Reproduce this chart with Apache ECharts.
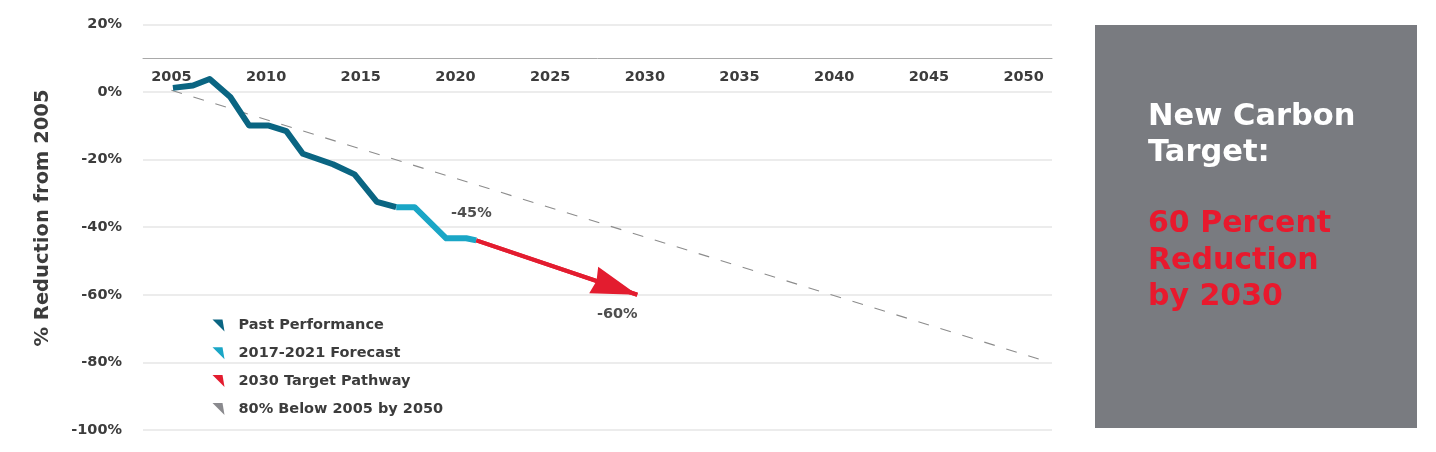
<!DOCTYPE html>
<html><head><meta charset="utf-8">
<script src="https://cdn.jsdelivr.net/npm/echarts@6/dist/echarts.min.js"></script>
<style>html,body{margin:0;padding:0;background:#fff}#c{width:1436px;height:452px}</style>
</head><body><div id="c"></div>
<script>
// ---- data ----
const xTicks = [2005, 2010, 2015, 2020, 2025, 2030, 2035, 2040, 2045, 2050];
const pastX = [2005.08, 2006.14, 2007.02, 2008.11, 2009.1, 2010.1, 2011.07, 2011.94, 2013.53, 2014.67, 2015.85, 2016.87];
const pastY = [1.2, 1.9, 3.8, -1.5, -9.9, -9.9, -11.6, -18.3, -21.4, -24.4, -32.5, -34.1];
const forecastX = [2016.87, 2017.84, 2019.51, 2020.57, 2021.1];
const forecastY = [-34.1, -34.1, -43.3, -43.3, -43.9];
const targetX = [2021.1, 2029.6];
const targetY = [-43.9, -60];
const trendX = [2005, 2050.8];
const trendY = [0.5, -79];
const annoX = [2021.1, 2029.6];
const annoY = [-43.9, -60];
const annoText = ['-45%', '-60%'];
const seriesNames = ['Past Performance', '2017-2021 Forecast', '2030 Target Pathway', '80% Below 2005 by 2050'];

// ---- styles ----
const C_DARK = '#0a6582', C_LIGHT = '#1aa6c6', C_RED = '#e31c2f', C_GRAY = '#8a8a8e';
const FONT = '"DejaVu Sans", "Liberation Sans", sans-serif';
const TXT = '#3c3c3c';
const pairs = (xs, ys) => xs.map((x, i) => [x, ys[i]]);
const ICON = 'path://M0,0 L10,0 L12,12 Z';
const ARROW = 'path://M14,0 L28,46 L14,43 L0,46 Z';

const chart = echarts.init(document.getElementById('c'), null, {renderer: 'canvas'});
chart.setOption({
  animation: false,
  backgroundColor: '#ffffff',
  grid: {left: 143, right: 384, top: 24.3, bottom: 22, containLabel: false},
  xAxis: {
    type: 'value', min: 2003.5, max: 2051.5, position: 'top', offset: -33.8,
    axisLine: {show: true, onZero: false, lineStyle: {color: '#a9a9a9', width: 1}},
    axisTick: {show: false},
    splitLine: {show: false},
    axisLabel: {
      customValues: xTicks, inside: true, margin: 12,
      formatter: v => String(v),
      color: TXT, fontFamily: FONT, fontWeight: 'bold', fontSize: 14.5
    }
  },
  yAxis: {
    type: 'value', min: -100, max: 20, interval: 20,
    axisLine: {show: false}, axisTick: {show: false},
    splitLine: {show: true, lineStyle: {color: '#e6e6e6', width: 1.5}},
    axisLabel: {formatter: v => v + '%', margin: 21, color: TXT, fontFamily: FONT, fontWeight: 'bold', fontSize: 14.5}
  },
  legend: {
    orient: 'vertical', left: 212.5, top: 318, padding: 0, itemWidth: 12, itemHeight: 12, itemGap: 12.8,
    selectedMode: false,
    textStyle: {color: TXT, fontFamily: FONT, fontWeight: 'bold', fontSize: 14.5, padding: [0, 0, 0, 9]},
    data: [
      {name: seriesNames[0], icon: ICON, itemStyle: {color: C_DARK}, lineStyle: {width: 0, opacity: 0}},
      {name: seriesNames[1], icon: ICON, itemStyle: {color: C_LIGHT}, lineStyle: {width: 0, opacity: 0}},
      {name: seriesNames[2], icon: ICON, itemStyle: {color: C_RED}, lineStyle: {width: 0, opacity: 0}},
      {name: seriesNames[3], icon: ICON, itemStyle: {color: C_GRAY}, lineStyle: {width: 0, opacity: 0}}
    ]
  },
  series: [
    {
      name: seriesNames[3], type: 'line', data: pairs(trendX, trendY), symbol: 'none', z: 1,
      color: C_GRAY,
      lineStyle: {color: '#8c8c8c', width: 1.1, type: [11, 12]}
    },
    {
      name: seriesNames[0], type: 'line', data: pairs(pastX, pastY), symbol: 'none', z: 3,
      color: C_DARK,
      lineStyle: {color: C_DARK, width: 6, join: 'round', cap: 'butt'}
    },
    {
      name: seriesNames[1], type: 'line', data: pairs(forecastX, forecastY), symbol: 'none', z: 3,
      color: C_LIGHT,
      lineStyle: {color: C_LIGHT, width: 6, join: 'round', cap: 'butt'}
    },
    {
      name: seriesNames[2], type: 'line', data: pairs(targetX, targetY), symbol: 'none', z: 2,
      color: C_RED,
      lineStyle: {color: C_RED, width: 4, cap: 'butt'},
      markLine: {
        silent: true, animation: false,
        symbol: ['none', ARROW],
        label: {show: false},
        lineStyle: {color: C_RED, width: 4, type: 'solid'},
        emphasis: {disabled: true},
        data: [[
          {coord: [targetX[0], targetY[0]], symbol: 'none', symbolSize: 1},
          {coord: [targetX[1], targetY[1]], symbol: ARROW, symbolSize: [28, 46], symbolOffset: [0, 23]}
        ]]
      }
    },
    {
      name: 'labels', type: 'scatter', symbolSize: 1, z: 5, silent: true,
      itemStyle: {color: 'rgba(0,0,0,0)'},
      label: {show: true, position: 'top', distance: 0, formatter: '{b}', color: '#222222', fontFamily: FONT, fontWeight: 'bold', fontSize: 14.5},
      data: annoX.map((x, i) => ({
        value: [x, annoY[i]], name: annoText[i],
        label: {offset: i === 0 ? [-5, -19.5] : [-20, 27.5]}
      }))
    }
  ],
  graphic: [
    {type: 'rect', shape: {x: 1095, y: 25, width: 322, height: 403}, style: {fill: '#797b80'}, silent: true},
    {type: 'text', x: 1148, y: 98.6, silent: true,
      style: {text: 'New Carbon\nTarget:', fill: '#ffffff', font: 'bold 30.5px ' + FONT, lineHeight: 36.6, verticalAlign: 'top', align: 'left'}},
    {type: 'text', x: 1148, y: 206.3, silent: true,
      style: {text: '60 Percent\nReduction\nby 2030', fill: '#e8192d', font: 'bold 30px ' + FONT, lineHeight: 36.4, verticalAlign: 'top', align: 'left'}},
    {type: 'text', x: 43, y: 218, rotation: Math.PI / 2, silent: true,
      style: {text: '% Reduction from 2005', fill: TXT, font: 'bold 19.5px ' + FONT, align: 'center', verticalAlign: 'middle'}}
  ]
});
</script>
</body></html>
